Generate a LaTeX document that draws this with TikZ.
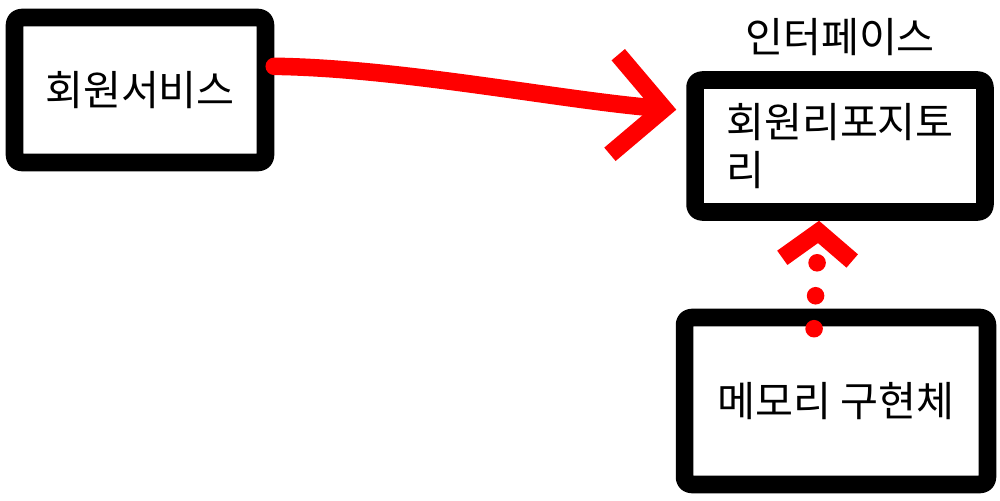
\documentclass[tikz,border=0pt]{standalone}
\usepackage{fontspec}
\setmainfont{Noto Sans CJK KR}
\usetikzlibrary{arrows.meta,positioning}

\tikzset{
  box/.style={draw,line width=10pt,line join=round,rounded corners=4pt,
    font=\fontsize{23.5}{27}\selectfont,inner sep=0pt},
  flow/.style={red,line width=10pt,line cap=round,line join=round},
}

\begin{document}
\begin{tikzpicture}[x=0.02cm,y=-0.02cm]
 \useasboundingbox (0,0) rectangle (1000,500);
 % boxes
 \node[box,minimum width=5.02cm,minimum height=2.9cm] (svc) at (140,90) {회원서비스};
 \node[box,minimum width=5.8cm,minimum height=2.64cm,align=left] (repo) at (840,146) {회원리포지토\\리};
 \node[box,minimum width=6.06cm,minimum height=3.34cm] (mem) at (836,401) {메모리 구현체};
 \node[font=\fontsize{23.5}{27}\selectfont,inner sep=0pt,above=0.3cm of repo] (iface) {인터페이스};
 % arrows
 \draw[flow,-{Straight Barb[length=1cm,width=2cm]},shorten >=0.2cm]
   (svc.10) .. controls (400,68) and (560,100) .. (repo.167);
 \draw[flow,dash pattern=on 0pt off 0.66cm,-{Straight Barb[length=0.55cm,width=1.4cm]},shorten <=-0.4cm]
   ([xshift=-0.42cm]mem.north) -- ([xshift=-0.42cm]repo.south);
\end{tikzpicture}
\end{document}
